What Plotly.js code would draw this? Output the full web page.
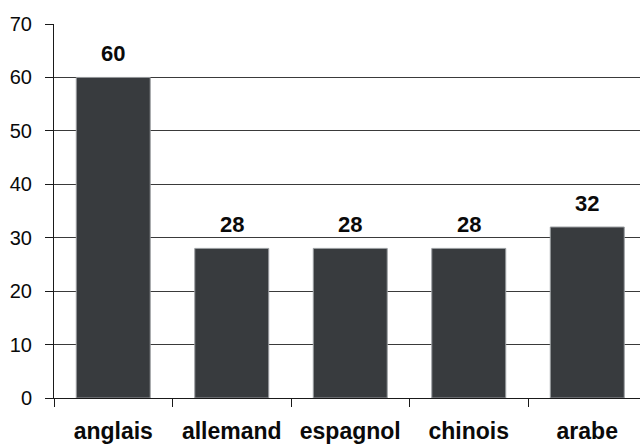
<!DOCTYPE html>
<html>
<head>
<meta charset="utf-8">
<script src="https://cdn.plot.ly/plotly-3.0.1.min.js"></script>
<style>
  html, body { margin: 0; padding: 0; background: #fff; }
  #chart { width: 640px; height: 446px; }
</style>
</head>
<body>
<div id="chart"></div>
<script>
// Langues étudiées : nombre de réponses par langue
const langues = ['anglais', 'allemand', 'espagnol', 'chinois', 'arabe'];
const valeurs = [60, 28, 28, 28, 32];
const yTicks = [0, 10, 20, 30, 40, 50, 60, 70];

const barColor = '#383b3e';
const gridColor = '#3a3a3a';
const textColor = '#0a0a0a';

const trace = {
  type: 'bar',
  x: langues,
  y: valeurs,
  marker: { color: barColor, line: { color: '#9a9da0', width: 1 } },
  hoverinfo: 'skip'
};

// valeur affichée au-dessus de chaque barre
const annotations = langues.map((l, i) => ({
  x: l,
  y: valeurs[i],
  text: String(valeurs[i]),
  showarrow: false,
  xanchor: 'center',
  yanchor: 'bottom',
  yshift: 9,
  font: { family: 'Liberation Sans, Arial, sans-serif', size: 22, color: textColor, weight: 'bold' }
}));

const layout = {
  width: 640,
  height: 446,
  margin: { l: 54, r: 0, t: 24, b: 48, pad: 0 },
  paper_bgcolor: '#ffffff',
  plot_bgcolor: '#ffffff',
  showlegend: false,
  bargap: 0.376,
  font: { family: 'Liberation Sans, Arial, sans-serif', color: textColor },
  xaxis: {
    type: 'category',
    range: [-0.5, 4.445],
    showline: true,
    linecolor: '#1a1a1a',
    linewidth: 1,
    ticks: 'outside',
    tickson: 'boundaries',
    ticklen: 8,
    tickcolor: '#1a1a1a',
    tickwidth: 1,
    ticklabelstandoff: 12,
    tickfont: { size: 23, weight: 'bold', color: textColor },
    showgrid: false,
    zeroline: false,
    fixedrange: true
  },
  yaxis: {
    range: [0, 70],
    tickvals: yTicks,
    ticktext: yTicks.map(String),
    showline: true,
    linecolor: '#1a1a1a',
    linewidth: 1,
    ticks: 'outside',
    ticklen: 8,
    tickcolor: '#1a1a1a',
    tickwidth: 1,
    ticklabelstandoff: 9,
    tickfont: { size: 20, color: textColor },
    showgrid: true,
    gridcolor: gridColor,
    gridwidth: 1,
    zeroline: false,
    fixedrange: true
  },
  annotations: annotations
};

Plotly.newPlot('chart', [trace], layout, { displayModeBar: false, staticPlot: true });
</script>
</body>
</html>
